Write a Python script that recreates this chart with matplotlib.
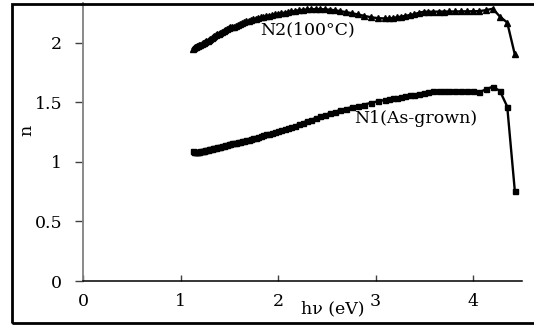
import matplotlib
matplotlib.use("Agg")
import matplotlib.pyplot as plt
from matplotlib.patches import Rectangle

# photon energy (eV)
energy = [1.127, 1.138, 1.148, 1.159, 1.170, 1.181, 1.192, 1.204, 1.216, 1.228,
          1.240, 1.253, 1.265, 1.278, 1.292, 1.305, 1.319, 1.333, 1.348, 1.363,
          1.378, 1.393, 1.409, 1.425, 1.442, 1.459, 1.476, 1.494, 1.512, 1.531,
          1.550, 1.570, 1.590, 1.610, 1.632, 1.653, 1.676, 1.699, 1.722, 1.746,
          1.771, 1.797, 1.824, 1.851, 1.879, 1.908, 1.938, 1.968, 2.000, 2.033,
          2.067, 2.102, 2.138, 2.175, 2.214, 2.255, 2.296, 2.340, 2.385, 2.431,
          2.480, 2.531, 2.583, 2.638, 2.696, 2.756, 2.818, 2.884, 2.952, 3.024,
          3.100, 3.139, 3.179, 3.221, 3.263, 3.307, 3.351, 3.397, 3.444, 3.493,
          3.543, 3.594, 3.647, 3.701, 3.758, 3.815, 3.875, 3.937, 4.000, 4.066,
          4.133, 4.203, 4.276, 4.351, 4.429]

n_N1 = [1.088, 1.085, 1.083, 1.083, 1.084, 1.085, 1.086, 1.088, 1.090, 1.092,
        1.094, 1.096, 1.099, 1.101, 1.104, 1.107, 1.110, 1.113, 1.116, 1.119,
        1.122, 1.125, 1.128, 1.132, 1.136, 1.140, 1.144, 1.148, 1.151, 1.154,
        1.156, 1.158, 1.162, 1.166, 1.171, 1.176, 1.181, 1.186, 1.191, 1.197,
        1.203, 1.209, 1.216, 1.222, 1.229, 1.236, 1.243, 1.251, 1.259, 1.266,
        1.274, 1.283, 1.293, 1.304, 1.316, 1.329, 1.342, 1.354, 1.366, 1.380,
        1.394, 1.407, 1.420, 1.433, 1.446, 1.458, 1.469, 1.480, 1.494, 1.507,
        1.519, 1.525, 1.531, 1.537, 1.543, 1.550, 1.557, 1.564, 1.571, 1.580,
        1.588, 1.594, 1.598, 1.596, 1.594, 1.594, 1.593, 1.592, 1.590, 1.584,
        1.608, 1.630, 1.594, 1.463, 0.755]

n_N2 = [1.950, 1.955, 1.960, 1.965, 1.969, 1.974, 1.978, 1.983, 1.988, 1.993,
        1.998, 2.004, 2.010, 2.016, 2.023, 2.030, 2.037, 2.044, 2.052, 2.060,
        2.068, 2.076, 2.084, 2.092, 2.100, 2.108, 2.116, 2.124, 2.130, 2.133,
        2.132, 2.140, 2.150, 2.158, 2.165, 2.172, 2.178, 2.184, 2.190, 2.196,
        2.201, 2.207, 2.212, 2.217, 2.222, 2.227, 2.232, 2.237, 2.242, 2.247,
        2.251, 2.256, 2.261, 2.266, 2.271, 2.275, 2.278, 2.280, 2.281, 2.281,
        2.279, 2.276, 2.271, 2.264, 2.256, 2.247, 2.236, 2.224, 2.213, 2.205,
        2.202, 2.203, 2.207, 2.212, 2.218, 2.224, 2.231, 2.238, 2.250, 2.258,
        2.259, 2.259, 2.260, 2.260, 2.261, 2.261, 2.262, 2.262, 2.263, 2.264,
        2.272, 2.284, 2.218, 2.168, 1.900]

x_ticks = [0, 1, 2, 3, 4]
y_ticks = [0, 0.5, 1, 1.5, 2]
y_tick_labels = ["0", "0.5", "1", "1.5", "2"]

plt.rcParams['font.family'] = ['DejaVu Serif']
FS = 12.5

fig = plt.figure(figsize=(5.34, 3.26), dpi=100)
ax = fig.add_axes([83/534, 1 - 281/326, (521.75 - 83)/534, (281 - 3)/326])

ax.plot(energy, n_N2, color='black', marker='^', markersize=4.0, lw=1.7)
ax.plot(energy, n_N1, color='black', marker='s', markersize=3.6, lw=1.7)

ax.set_xlim(0, 4.5)
ax.set_ylim(0, 2.332)
ax.set_xticks(x_ticks)
ax.set_xticklabels([str(t) for t in x_ticks])
ax.set_yticks(y_ticks)
ax.set_yticklabels(y_tick_labels)

for s in ['top', 'right']:
    ax.spines[s].set_visible(False)
ax.spines['left'].set_color('#808080')
ax.spines['left'].set_linewidth(1.3)
ax.spines['bottom'].set_color('black')
ax.spines['bottom'].set_linewidth(1.1)

ax.tick_params(axis='y', direction='out', length=6, width=1.0, color='#404040',
               pad=9, labelsize=FS)
ax.tick_params(axis='x', direction='in', length=4, width=1.0, color='#404040',
               pad=9, labelsize=FS)

ax.set_xlabel("hν (eV)", fontsize=FS)
ax.xaxis.set_label_coords((333 - 83) / 438.75, -0.07)
ax.set_ylabel("n", fontsize=FS)
ax.yaxis.set_label_coords(-0.108, 0.543)

ax.text(2.30, 2.105, "N2(100°C)", fontsize=FS, ha='center', va='center')
ax.text(3.415, 1.367, "N1(As-grown)", fontsize=FS, ha='center', va='center')

# outer frame (right edge falls outside the image, as in the reference)
fig.patches.append(Rectangle((11.5/534, 3.5/326), 540/534, (322 - 3.5)/326,
                             transform=fig.transFigure, fill=False,
                             edgecolor='black', linewidth=2.0))

fig.savefig("out.png", dpi=100)
